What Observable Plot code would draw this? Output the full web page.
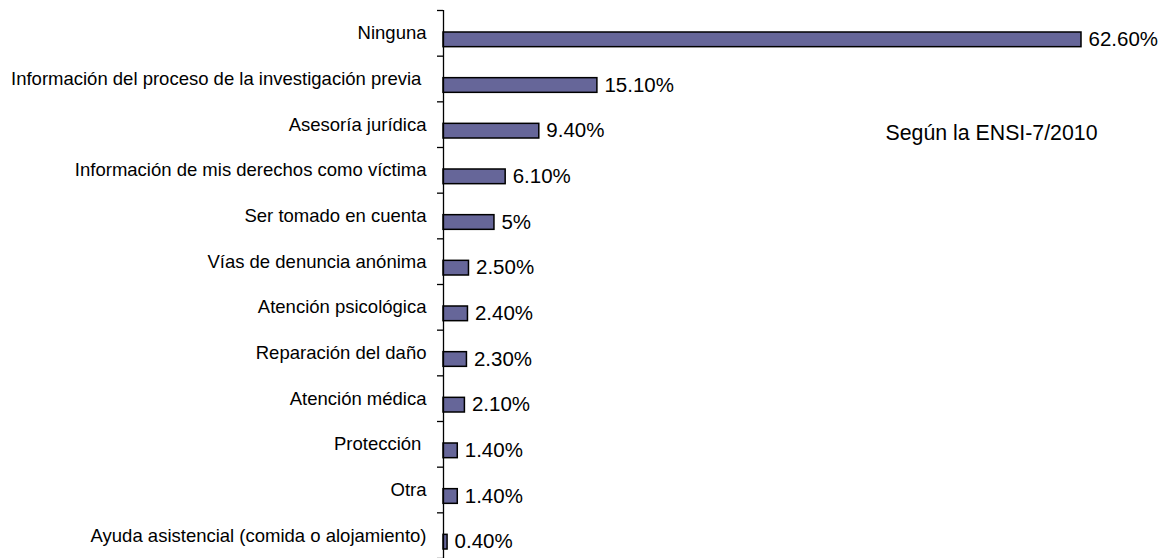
<!DOCTYPE html>
<html><head><meta charset="utf-8">
<script src="https://cdn.jsdelivr.net/npm/d3@7"></script>
<script src="https://cdn.jsdelivr.net/npm/@observablehq/plot@0.6"></script>
<style>body{margin:0;background:#fff}</style>
</head><body><div id="chart"></div>
<script>
const categories = [
  "Ninguna",
  "Información del proceso de la investigación previa\u00a0",
  "Asesoría jurídica",
  "Información de mis derechos como víctima",
  "Ser tomado en cuenta",
  "Vías de denuncia anónima",
  "Atención psicológica",
  "Reparación del daño",
  "Atención médica",
  "Protección\u00a0",
  "Otra",
  "Ayuda asistencial (comida o alojamiento)"
];
const values = [62.6, 15.1, 9.4, 6.1, 5, 2.5, 2.4, 2.3, 2.1, 1.4, 1.4, 0.4];
const valueLabels = ["62.60%", "15.10%", "9.40%", "6.10%", "5%", "2.50%", "2.40%", "2.30%", "2.10%", "1.40%", "1.40%", "0.40%"];
const annotation = "Según la ENSI-7/2010";

const data = categories.map((c, i) => ({i, category: c, value: values[i], label: valueLabels[i]}));
const indices = d3.range(categories.length);
const boundaries = d3.range(-0.5, categories.length, 1);

const chart = Plot.plot({
  width: 1175,
  height: 558,
  marginLeft: 443,
  marginRight: 94,
  marginTop: 10,
  marginBottom: 0,
  style: {fontFamily: "'Liberation Sans', Arial, sans-serif", fontSize: "18px", color: "#000", background: "#fff"},
  x: {domain: [0, 62.6], axis: null},
  y: {domain: [-0.5, categories.length - 0.5], reverse: true, axis: null},
  marks: [
    Plot.rectX(data, {
      x1: 0, x2: "value",
      y1: d => d.i - 0.5, y2: d => d.i + 0.5,
      insetTop: 22, insetBottom: 9,
      fill: "#666699", stroke: "#000", strokeWidth: 1.5
    }),
    Plot.ruleX([0], {stroke: "#000", strokeWidth: 1.3}),
    Plot.axisY({ticks: boundaries, tickSize: 6, tickFormat: () => "", label: null, stroke: "#000", strokeWidth: 1.3}),
    Plot.axisY({ticks: indices, tickSize: 0, tickPadding: 17, tickFormat: i => categories[i], label: null, fontSize: 18.5, fill: "#000"}),
    Plot.text(data, {x: "value", y: "i", text: "label", dx: 7, dy: 6, textAnchor: "start", fontSize: 20.5, fill: "#000"}),
    Plot.text([annotation], {frameAnchor: "top-right", lineAnchor: "middle", dx: 16, dy: 123, fontSize: 21.3, fill: "#000"})
  ]
});
document.getElementById("chart").append(chart);
</script>
</body></html>
